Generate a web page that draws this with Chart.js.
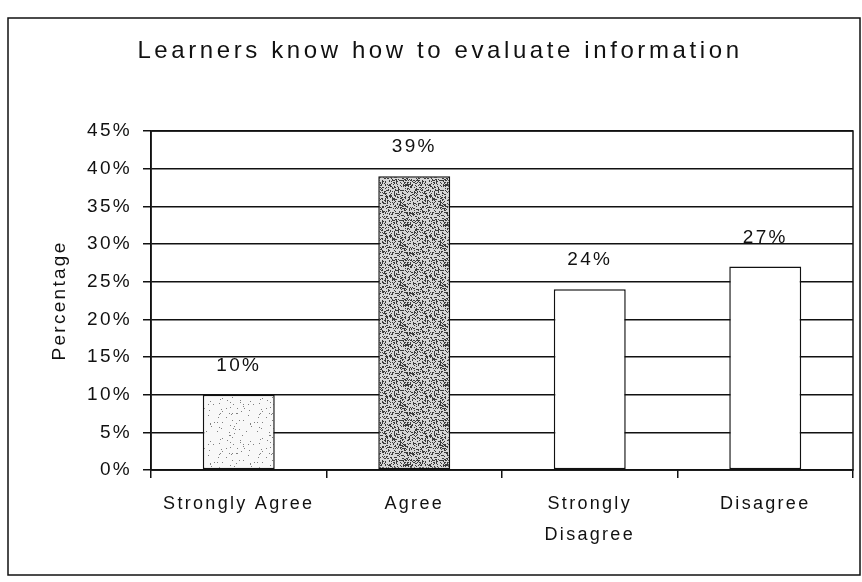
<!DOCTYPE html>
<html>
<head>
<meta charset="utf-8">
<script src="https://cdn.jsdelivr.net/npm/chart.js@4.4.1/dist/chart.umd.min.js"></script>
<style>
  html, body { margin: 0; padding: 0; background: #ffffff; }
  #wrap { width: 862px; height: 582px; }
</style>
</head>
<body>
<div id="wrap"><canvas id="c" width="862" height="582"></canvas></div>
<script>
// ---- data ----
const chartTitle = 'Learners know how to evaluate information';
const categories = ['Strongly Agree', 'Agree', ['Strongly', 'Disagree'], 'Disagree'];
const values = [10, 39, 24, 27];
const yTicks = [0, 5, 10, 15, 20, 25, 30, 35, 40, 45];
const yAxisTitle = 'Percentage';

// ---- deterministic speckle textures for the shaded bars ----
function speckle(bg, dot, density) {
  const c = document.createElement('canvas');
  c.width = 40; c.height = 40;
  const g = c.getContext('2d');
  g.fillStyle = bg; g.fillRect(0, 0, 40, 40);
  g.fillStyle = dot;
  for (let y = 0; y < 40; y++) {
    for (let x = 0; x < 40; x++) {
      const h = Math.sin(x * 12.9898 + y * 78.233) * 43758.5453;
      if (h - Math.floor(h) < density) g.fillRect(x, y, 1, 1);
    }
  }
  return g.createPattern(c, 'repeat');
}
const fills = [
  speckle('#f8f8f8', '#808080', 0.035),
  speckle('#d6d6d6', '#3a3a3a', 0.34),
  '#ffffff',
  '#ffffff'
];

const INK = '#111111';
const FONT = '"Liberation Sans", Arial, sans-serif';

const spacingPlugin = {
  id: 'spacing',
  beforeUpdate(chart) { chart.ctx.letterSpacing = '2.3px'; },
  beforeDraw(chart) { chart.ctx.letterSpacing = '2.3px'; }
};

const decorPlugin = {
  id: 'decor',
  afterDatasetsDraw(chart) {
    const ctx = chart.ctx;
    const meta = chart.getDatasetMeta(0);
    ctx.save();
    ctx.letterSpacing = '2.3px';
    ctx.font = '19px ' + FONT;
    ctx.fillStyle = INK;
    ctx.textAlign = 'center';
    ctx.textBaseline = 'middle';
    meta.data.forEach((bar, i) => {
      ctx.fillText(values[i] + '%', bar.x, bar.y - 29);
    });
    ctx.restore();
  },
  afterDraw(chart) {
    const ctx = chart.ctx;
    const a = chart.chartArea;
    ctx.save();
    ctx.strokeStyle = INK;
    ctx.lineWidth = 1.5;
    ctx.strokeRect(a.left, a.top, a.right - a.left, a.bottom - a.top);
    ctx.strokeRect(8, 18, 852, 557);
    ctx.letterSpacing = '3.6px';
    ctx.font = '24px ' + FONT;
    ctx.fillStyle = INK;
    ctx.textAlign = 'center';
    ctx.textBaseline = 'middle';
    ctx.fillText(chartTitle, 440, 51);
    ctx.restore();
  }
};

new Chart(document.getElementById('c'), {
  type: 'bar',
  data: {
    labels: categories,
    datasets: [{
      data: values,
      backgroundColor: fills,
      borderColor: INK,
      borderWidth: 1.5,
      borderSkipped: false,
      barPercentage: 0.41,
      categoryPercentage: 1.0
    }]
  },
  options: {
    responsive: false,
    devicePixelRatio: 1,
    animation: false,
    layout: { padding: { left: 44, right: 9, top: 131, bottom: 0 } },
    plugins: {
      legend: { display: false },
      title: { display: false },
      tooltip: { enabled: false }
    },
    scales: {
      x: {
        grid: { display: true, drawOnChartArea: false, drawTicks: true, tickLength: 8, color: INK, lineWidth: 1.5, offset: true },
        border: { display: true, color: INK, width: 1.5 },
        ticks: { color: INK, font: { family: FONT, size: 18, lineHeight: 1.7 }, padding: 11, maxRotation: 0, autoSkip: false },
        afterFit(s) { s.height = 112; }
      },
      y: {
        min: 0, max: 45,
        afterBuildTicks(s) { s.ticks = yTicks.map(v => ({ value: v })); },
        ticks: { color: INK, font: { family: FONT, size: 19 }, padding: 11, callback: v => v + '%' },
        grid: { color: INK, lineWidth: 1.5, tickLength: 8, drawTicks: true },
        border: { display: true, color: INK, width: 1.5 },
        title: { display: true, text: yAxisTitle, color: INK, font: { family: FONT, size: 19 }, padding: { top: 4, bottom: 4 } },
        afterFit(s) { s.width = 107; }
      }
    }
  },
  plugins: [spacingPlugin, decorPlugin]
});
</script>
</body>
</html>
